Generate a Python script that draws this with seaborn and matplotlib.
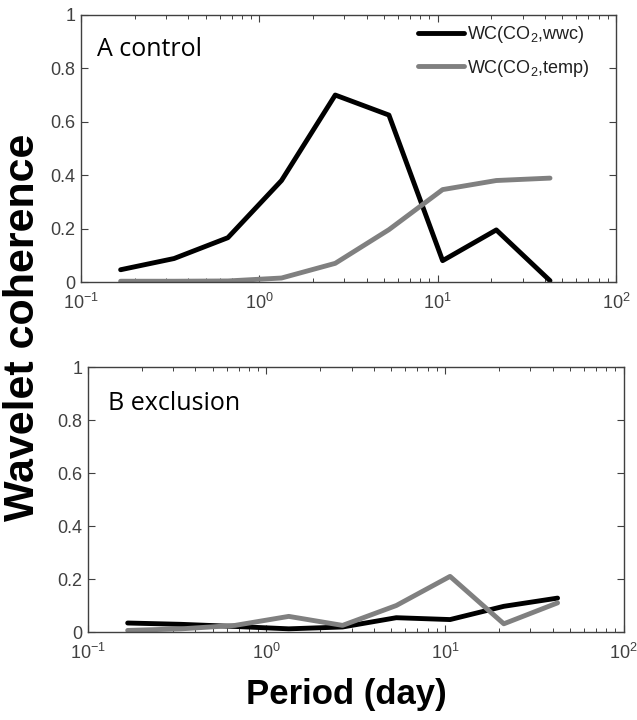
import numpy as np
import pandas as pd
import seaborn as sns
import matplotlib.pyplot as plt
from matplotlib.ticker import LogLocator

# period (day), doubling scales
period = [0.167, 0.333, 0.667, 1.333, 2.667, 5.333, 10.667, 21.333, 42.667]

# panel A: control
ctrl_wwc = [0.046, 0.088, 0.166, 0.38, 0.70, 0.625, 0.08, 0.195, 0.005]
ctrl_temp = [0.003, 0.003, 0.004, 0.015, 0.07, 0.196, 0.346, 0.38, 0.389]

# panel B: exclusion
excl_wwc = [0.034, 0.029, 0.021, 0.012, 0.019, 0.054, 0.047, 0.097, 0.128]
excl_temp = [0.006, 0.012, 0.025, 0.059, 0.025, 0.10, 0.21, 0.031, 0.11]

labels = [r'WC(CO$_2$,wwc)', r'WC(CO$_2$,temp)']
panel_titles = ['A control', 'B exclusion']
xticks = [0.1, 1, 10, 100]
xtick_labels = [r'$10^{-1}$', r'$10^{0}$', r'$10^{1}$', r'$10^{2}$']
yticks = [0, 0.2, 0.4, 0.6, 0.8, 1]
ytick_labels = ['0', '0.2', '0.4', '0.6', '0.8', '1']

sns.set_style('ticks')
plt.rcParams['font.family'] = ['Liberation Sans', 'DejaVu Sans']
plt.rcParams['mathtext.fontset'] = 'custom'
plt.rcParams['mathtext.rm'] = 'Liberation Sans'
plt.rcParams['mathtext.it'] = 'Liberation Sans'
plt.rcParams['text.color'] = 'black'


def make_df(wwc, temp):
    return pd.DataFrame({
        'period': period * 2,
        'wc': wwc + temp,
        'series': [labels[0]] * len(period) + [labels[1]] * len(period),
    })


fig = plt.figure(figsize=(6.37, 7.2), dpi=100)
ax_a = fig.add_axes([0.127, 0.6083, 0.840, 0.371])
ax_b = fig.add_axes([0.138, 0.1222, 0.841, 0.368])

palette = {labels[0]: 'black', labels[1]: '#808080'}
edge = '#404040'

for ax, (wwc, temp), title, tx, ty in zip(
        [ax_a, ax_b],
        [(ctrl_wwc, ctrl_temp), (excl_wwc, excl_temp)],
        panel_titles, [0.030, 0.037], [0.846, 0.838]):
    df = make_df(wwc, temp)
    sns.lineplot(data=df, x='period', y='wc', hue='series', palette=palette,
                 linewidth=3.5, ax=ax, legend=(ax is ax_a))
    ax.set_xscale('log')
    ax.set_xlim(0.1, 100)
    ax.set_ylim(0, 1)
    ax.set_xlabel('')
    ax.set_ylabel('')
    ax.set_yticks(yticks)
    ax.set_yticklabels(ytick_labels)
    ax.set_xticks(xticks)
    ax.set_xticklabels(xtick_labels)
    ax.xaxis.set_minor_locator(LogLocator(base=10, subs=np.arange(2, 10), numticks=20))
    ax.tick_params(which='both', direction='in', top=True, right=True,
                   labelsize=13, labelcolor='#404040', color=edge)
    ax.tick_params(which='major', length=5, width=0.8)
    ax.tick_params(which='minor', length=3, width=0.7)
    ax.tick_params(axis='x', which='both', pad=8)
    ax.tick_params(axis='y', which='both', pad=4)
    for s in ax.spines.values():
        s.set_color(edge)
        s.set_linewidth(1.0)
    ax.text(tx, ty, title, transform=ax.transAxes, ha='left', va='baseline',
            fontsize=18, family=['Open Sans', 'DejaVu Sans'], color='black')

leg = ax_a.legend(loc='upper right', bbox_to_anchor=(0.951, 0.966),
                  frameon=False, fontsize=13, borderpad=0, borderaxespad=0,
                  handlelength=2.55, handletextpad=0.2, labelspacing=0.7)
for line in leg.get_lines():
    line.set_linewidth(3.5)
for t in leg.get_texts():
    t.set_color('#202020')

fig.text(0.036, 0.545, 'Wavelet coherence', rotation=90, ha='center', va='center',
         fontsize=31, fontweight='bold', color='black')
fig.text(0.543, 0.036, 'Period (day)', ha='center', va='center',
         fontsize=25, fontweight='bold', color='black')

fig.savefig('out.png', dpi=100)
